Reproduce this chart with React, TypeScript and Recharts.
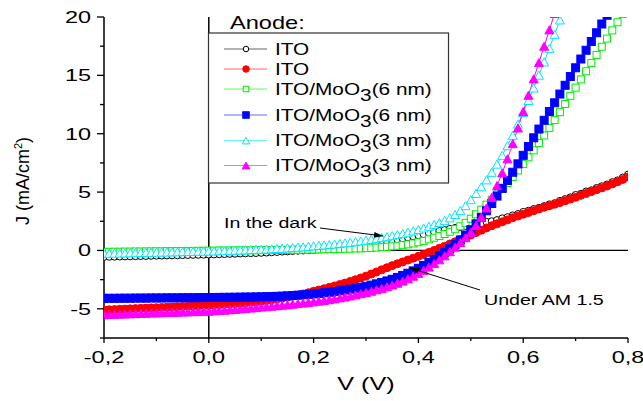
import React from "react";
import { Legend, Line, LineChart, ReferenceLine, XAxis, YAxis } from "recharts";

const FONT = '"Liberation Sans", Arial, sans-serif';

// voltage grid, V
const V = [
  -0.2, -0.19, -0.18, -0.17, -0.16, -0.15, -0.14, -0.13, -0.12, -0.11,
  -0.1, -0.09, -0.08, -0.07, -0.06, -0.05, -0.04, -0.03, -0.02, -0.01,
  0, 0.01, 0.02, 0.03, 0.04, 0.05, 0.06, 0.07, 0.08, 0.09,
  0.1, 0.11, 0.12, 0.13, 0.14, 0.15, 0.16, 0.17, 0.18, 0.19,
  0.2, 0.21, 0.22, 0.23, 0.24, 0.25, 0.26, 0.27, 0.28, 0.29,
  0.3, 0.31, 0.32, 0.33, 0.34, 0.35, 0.36, 0.37, 0.38, 0.39,
  0.4, 0.41, 0.42, 0.43, 0.44, 0.45, 0.46, 0.47, 0.48, 0.49,
  0.5, 0.51, 0.52, 0.53, 0.54, 0.55, 0.56, 0.57, 0.58, 0.59,
  0.6, 0.61, 0.62, 0.63, 0.64, 0.65, 0.66, 0.67, 0.68, 0.69,
  0.7, 0.71, 0.72, 0.73, 0.74, 0.75, 0.76, 0.77, 0.78, 0.79,
  0.8,
];

// J (mA/cm2) for each anode, dark and under AM 1.5
const itoDark = [
  -0.55, -0.54, -0.53, -0.52, -0.51, -0.5, -0.49, -0.48, -0.47, -0.46,
  -0.45, -0.44, -0.43, -0.42, -0.41, -0.4, -0.39, -0.38, -0.37, -0.36,
  -0.35, -0.34, -0.32, -0.31, -0.29, -0.28, -0.26, -0.25, -0.23, -0.22,
  -0.2, -0.18, -0.15, -0.13, -0.1, -0.08, -0.05, -0.02, 0.0, 0.03,
  0.05, 0.09, 0.13, 0.17, 0.21, 0.25, 0.3, 0.35, 0.4, 0.45,
  0.5, 0.57, 0.64, 0.71, 0.78, 0.85, 0.94, 1.03, 1.12, 1.21,
  1.3, 1.39, 1.5, 1.58, 1.67, 1.75, 1.85, 1.93, 2.0, 2.1,
  2.15, 2.25, 2.32, 2.45, 2.5, 2.6, 2.75, 2.85, 3.0, 3.12,
  3.3, 3.4, 3.55, 3.65, 3.8, 3.95, 4.05, 4.25, 4.4, 4.55,
  4.75, 4.85, 5.05, 5.15, 5.35, 5.5, 5.65, 5.85, 6.0, 6.25,
  6.5,
];
const itoLight = [
  -5.1, -5.08, -5.06, -5.04, -5.02, -5.0, -4.98, -4.96, -4.94, -4.92,
  -4.9, -4.88, -4.86, -4.84, -4.82, -4.8, -4.78, -4.76, -4.74, -4.72,
  -4.7, -4.67, -4.64, -4.61, -4.58, -4.55, -4.52, -4.48, -4.44, -4.4,
  -4.35, -4.29, -4.23, -4.16, -4.09, -4.0, -3.92, -3.83, -3.73, -3.62,
  -3.5, -3.39, -3.28, -3.16, -3.04, -2.92, -2.79, -2.65, -2.51, -2.36,
  -2.2, -2.02, -1.84, -1.66, -1.48, -1.3, -1.14, -0.98, -0.82, -0.66,
  -0.5, -0.34, -0.17, 0.0, 0.18, 0.36, 0.55, 0.74, 0.93, 1.12,
  1.33, 1.53, 1.73, 1.93, 2.12, 2.28, 2.45, 2.62, 2.8, 2.95,
  3.1, 3.25, 3.4, 3.55, 3.7, 3.83, 3.96, 4.1, 4.25, 4.4,
  4.55, 4.72, 4.88, 5.04, 5.2, 5.36, 5.52, 5.7, 5.88, 6.08,
  6.3,
];
const moo6Dark = [
  -0.12, -0.12, -0.11, -0.11, -0.1, -0.1, -0.09, -0.09, -0.08, -0.08,
  -0.07, -0.07, -0.06, -0.06, -0.05, -0.05, -0.04, -0.04, -0.03, -0.03,
  -0.02, -0.02, -0.01, -0.01, 0.0, 0.0, 0.01, 0.01, 0.02, 0.02,
  0.03, 0.03, 0.04, 0.04, 0.05, 0.05, 0.06, 0.06, 0.07, 0.07,
  0.08, 0.09, 0.1, 0.11, 0.12, 0.13, 0.14, 0.15, 0.17, 0.18,
  0.2, 0.22, 0.25, 0.28, 0.31, 0.35, 0.4, 0.45, 0.52, 0.6,
  0.7, 0.82, 0.95, 1.09, 1.24, 1.41, 1.6, 1.82, 2.07, 2.37,
  2.72, 3.1, 3.5, 3.92, 4.35, 4.8, 5.28, 5.78, 6.3, 6.85,
  7.4, 7.98, 8.58, 9.2, 9.85, 10.5, 11.17, 11.85, 12.55, 13.25,
  13.95, 14.65, 15.35, 16.05, 16.75, 17.45, 18.15, 18.85, 19.55, 20.25,
];
const moo6Light = [
  -4.1, -4.1, -4.1, -4.09, -4.09, -4.09, -4.08, -4.08, -4.08, -4.07,
  -4.07, -4.07, -4.06, -4.06, -4.06, -4.05, -4.05, -4.05, -4.04, -4.04,
  -4.03, -4.03, -4.02, -4.02, -4.01, -4.01, -4.0, -3.99, -3.99, -3.98,
  -3.97, -3.96, -3.95, -3.93, -3.91, -3.89, -3.86, -3.83, -3.8, -3.76,
  -3.72, -3.68, -3.63, -3.58, -3.52, -3.46, -3.39, -3.32, -3.24, -3.16,
  -3.07, -2.97, -2.86, -2.74, -2.61, -2.47, -2.31, -2.14, -1.95, -1.75,
  -1.53, -1.29, -1.03, -0.76, -0.47, -0.16, 0.17, 0.52, 0.9, 1.32,
  1.78, 2.28, 2.82, 3.4, 4.02, 4.66, 5.32, 6.0, 6.7, 7.42,
  8.15, 8.9, 9.65, 10.4, 11.15, 11.9, 12.65, 13.4, 14.15, 14.9,
  15.65, 16.4, 17.15, 17.9, 18.65, 19.4, 20.15,
];
const moo3Dark = [
  -0.25, -0.24, -0.23, -0.22, -0.21, -0.2, -0.19, -0.18, -0.17, -0.16,
  -0.15, -0.14, -0.13, -0.12, -0.11, -0.1, -0.09, -0.08, -0.07, -0.06,
  -0.05, -0.04, -0.02, -0.01, 0.01, 0.02, 0.04, 0.05, 0.07, 0.08,
  0.1, 0.12, 0.14, 0.17, 0.19, 0.22, 0.25, 0.28, 0.31, 0.35,
  0.39, 0.43, 0.47, 0.51, 0.55, 0.6, 0.65, 0.7, 0.76, 0.82,
  0.88, 0.95, 1.02, 1.1, 1.18, 1.27, 1.36, 1.46, 1.57, 1.68,
  1.8, 1.93, 2.07, 2.22, 2.39, 2.58, 2.8, 3.08, 3.42, 3.85,
  4.35, 4.88, 5.45, 6.05, 6.7, 7.4, 8.15, 8.98, 9.87, 10.82,
  11.82, 12.85, 13.92, 15.02, 16.15, 17.32, 18.52, 19.75, 21.0,
];
const moo3Light = [
  -5.5, -5.48, -5.47, -5.45, -5.44, -5.42, -5.41, -5.39, -5.38, -5.36,
  -5.35, -5.33, -5.32, -5.3, -5.29, -5.27, -5.26, -5.24, -5.23, -5.21,
  -5.2, -5.17, -5.14, -5.11, -5.08, -5.05, -5.01, -4.97, -4.93, -4.89,
  -4.85, -4.81, -4.77, -4.73, -4.69, -4.65, -4.6, -4.55, -4.5, -4.45,
  -4.4, -4.34, -4.28, -4.21, -4.14, -4.06, -3.98, -3.89, -3.8, -3.7,
  -3.6, -3.49, -3.37, -3.25, -3.11, -2.96, -2.8, -2.62, -2.42, -2.2,
  -1.96, -1.7, -1.42, -1.12, -0.8, -0.46, -0.1, 0.28, 0.68, 1.1,
  1.55, 2.15, 2.85, 3.65, 4.55, 5.55, 6.65, 7.85, 9.15, 10.5,
  11.9, 13.3, 14.7, 16.1, 17.5, 18.9, 20.3,
];

const xTicks = [-0.2, -0.1, 0, 0.1, 0.2, 0.3, 0.4, 0.5, 0.6, 0.7, 0.8];
const yTicks = [-7.5, -5, -2.5, 0, 2.5, 5, 7.5, 10, 12.5, 15, 17.5, 20];

const legendTitle = "Anode:";
const legendNames = [
  { main: "ITO", sub: "", rest: "" },
  { main: "ITO", sub: "", rest: "" },
  { main: "ITO/MoO", sub: "3", rest: "(6 nm)" },
  { main: "ITO/MoO", sub: "3", rest: "(6 nm)" },
  { main: "ITO/MoO", sub: "3", rest: "(3 nm)" },
  { main: "ITO/MoO", sub: "3", rest: "(3 nm)" },
];

type Shape = "circle" | "square" | "triangle";
type Style = { color: string; shape: Shape; filled: boolean; size: number };

const styles: Style[] = [
  { color: "#000000", shape: "circle", filled: false, size: 7 },
  { color: "#ff0000", shape: "circle", filled: true, size: 8 },
  { color: "#00ee00", shape: "square", filled: false, size: 7 },
  { color: "#0000ff", shape: "square", filled: true, size: 8 },
  { color: "#00e5ff", shape: "triangle", filled: false, size: 9 },
  { color: "#ff00ff", shape: "triangle", filled: true, size: 9 },
];
const seriesData = [itoDark, itoLight, moo6Dark, moo6Light, moo3Dark, moo3Light];

const rows = (ys: number[]) => ys.map((j, i) => ({ v: V[i], j }));

const Marker = ({ cx, cy, s, small }: { cx: number; cy: number; s: Style; small?: boolean }) => {
  if (cx == null || cy == null) return null;
  const fill = s.filled ? s.color : "#ffffff";
  const size = small ? s.size - 1.5 : s.size;
  const h = size / 2;
  if (s.shape === "circle")
    return <circle cx={cx} cy={cy} r={h} fill={fill} stroke={s.color} strokeWidth={1} />;
  if (s.shape === "square")
    return <rect x={cx - h} y={cy - h} width={size} height={size} fill={fill} stroke={s.color} strokeWidth={1} />;
  const th = size * 0.45;
  return (
    <polygon
      points={`${cx},${cy - th} ${cx + h},${cy + th} ${cx - h},${cy + th}`}
      fill={fill}
      stroke={s.color}
      strokeWidth={1}
    />
  );
};

const fmtX = (v: number) => v.toFixed(1).replace(".", ",");

const XTick = (props: any) => {
  const { x, y, payload } = props;
  const major = Math.round(Math.abs(payload.value) * 10) % 2 === 0;
  return (
    <g>
      <line x1={x} x2={x} y1={y} y2={y + (major ? 5 : 3)} stroke="#000" strokeWidth={1.3} />
      {major && (
        <text
          transform={`translate(${x},${y + 25}) scale(1.42,1)`}
          textAnchor="middle"
          fontSize={16.5}
          fontFamily={FONT}
          fill="#000"
        >
          {fmtX(payload.value)}
        </text>
      )}
    </g>
  );
};

const YTick = (props: any) => {
  const { x, y, payload } = props;
  const major = payload.value % 5 === 0;
  return (
    <g>
      <line x1={x - (major ? 7 : 4)} x2={x} y1={y} y2={y} stroke="#000" strokeWidth={1.3} />
      {major && (
        <text
          transform={`translate(${x - 13},${y + 6}) scale(1.42,1)`}
          textAnchor="end"
          fontSize={16.5}
          fontFamily={FONT}
          fill="#000"
        >
          {payload.value}
        </text>
      )}
    </g>
  );
};

// legend box geometry, relative to the legend wrapper (placed at 208,16)
const rowY = [33, 53, 73, 99, 124.5, 149.5];

const LegendBox = () => (
  <svg width={242} height={172} style={{ display: "block", overflow: "visible" }}>
    <text transform="translate(22,13.3) scale(1.35,1)" fontSize={17.5} fontFamily={FONT} fill="#000">
      {legendTitle}
    </text>
    <rect x={0.5} y={17} width={240} height={150} fill="#ffffff" stroke="#333" strokeWidth={1.2} />
    {legendNames.map((n, i) => {
      const s = styles[i];
      const cy = rowY[i];
      return (
        <g key={i}>
          <line x1={16} x2={59} y1={cy} y2={cy} stroke={s.color} strokeOpacity={0.6} strokeWidth={1} />
          <Marker cx={38} cy={cy} s={s} small />
          <text
            transform={`translate(67,${cy + 5.5}) scale(1.3,1)`}
            fontSize={16}
            fontFamily={FONT}
            fill="#000"
          >
            {n.main}
            {n.sub && <tspan dy={6}>{n.sub}</tspan>}
            {n.rest && <tspan dy={-6}>{n.rest}</tspan>}
          </text>
        </g>
      );
    })}
  </svg>
);

const arrowHead = (x1: number, y1: number, x2: number, y2: number) => {
  const a = Math.atan2(y2 - y1, x2 - x1);
  const len = 9;
  const w = 3;
  const bx = x2 - len * Math.cos(a);
  const by = y2 - len * Math.sin(a);
  return `${x2},${y2} ${bx - w * Math.sin(a)},${by + w * Math.cos(a)} ${bx + w * Math.sin(a)},${by - w * Math.cos(a)}`;
};

export default function App() {
  return (
    <div style={{ position: "absolute", left: 0, top: 0, width: 643, height: 401, background: "#fff" }}>
      <LineChart width={643} height={401} margin={{ top: 17, right: 15, bottom: 0, left: 0 }} style={{ fontFamily: FONT }}>
        <ReferenceLine x={0} stroke="#000" strokeWidth={1.5} />
        <ReferenceLine y={0} stroke="#000" strokeWidth={1.2} />
        <XAxis
          type="number"
          dataKey="v"
          domain={[-0.2, 0.8]}
          ticks={xTicks}
          interval={0}
          allowDataOverflow
          height={63}
          tickSize={0}
          tickMargin={0}
          tickLine={false}
          tick={(p: any) => <XTick {...p} />}
          axisLine={{ stroke: "#000", strokeWidth: 1.5 }}
        />
        <YAxis
          type="number"
          domain={[-7.5, 20]}
          ticks={yTicks}
          interval={0}
          allowDataOverflow
          width={104}
          tickSize={0}
          tickMargin={0}
          tickLine={false}
          tick={(p: any) => <YTick {...p} />}
          axisLine={{ stroke: "#000", strokeWidth: 1.5 }}
        />
        {seriesData.map((ys, i) => (
          <Line
            key={i}
            data={rows(ys)}
            dataKey="j"
            type="linear"
            stroke={styles[i].color}
            strokeWidth={1}
            dot={(p: any) => <Marker key={p.index} cx={p.cx} cy={p.cy} s={styles[i]} />}
            activeDot={false}
            isAnimationActive={false}
          />
        ))}
        <Legend
          layout="horizontal"
          verticalAlign="middle"
          align="center"
          content={() => <LegendBox />}
          wrapperStyle={{ left: 208, top: 16, width: 242, height: 172 }}
        />
      </LineChart>
      <svg
        width={643}
        height={401}
        style={{ position: "absolute", left: 0, top: 0, pointerEvents: "none" }}
      >
        <text transform="translate(366,390) scale(1.4,1)" textAnchor="middle" fontSize={18} fontFamily={FONT} fill="#000">
          V (V)
        </text>
        <text transform="translate(29,181) rotate(-90)" textAnchor="middle" fontSize={18} fontFamily={FONT} fill="#000">
          J (mA/cm<tspan dy={-7} fontSize={11}>2</tspan><tspan dy={7}>)</tspan>
        </text>
        <text transform="translate(224,228) scale(1.4,1)" fontSize={14} fontFamily={FONT} fill="#000">
          In the dark
        </text>
        <line x1={320} y1={228} x2={383} y2={236} stroke="#000" strokeWidth={1} />
        <polygon points={arrowHead(320, 228, 383, 236)} fill="#000" />
        <text transform="translate(484,305) scale(1.4,1)" fontSize={14} fontFamily={FONT} fill="#000">
          Under AM 1.5
        </text>
        <line x1={480} y1={290} x2={410} y2={268} stroke="#000" strokeWidth={1} />
        <polygon points={arrowHead(480, 290, 410, 268)} fill="#000" />
      </svg>
    </div>
  );
}
